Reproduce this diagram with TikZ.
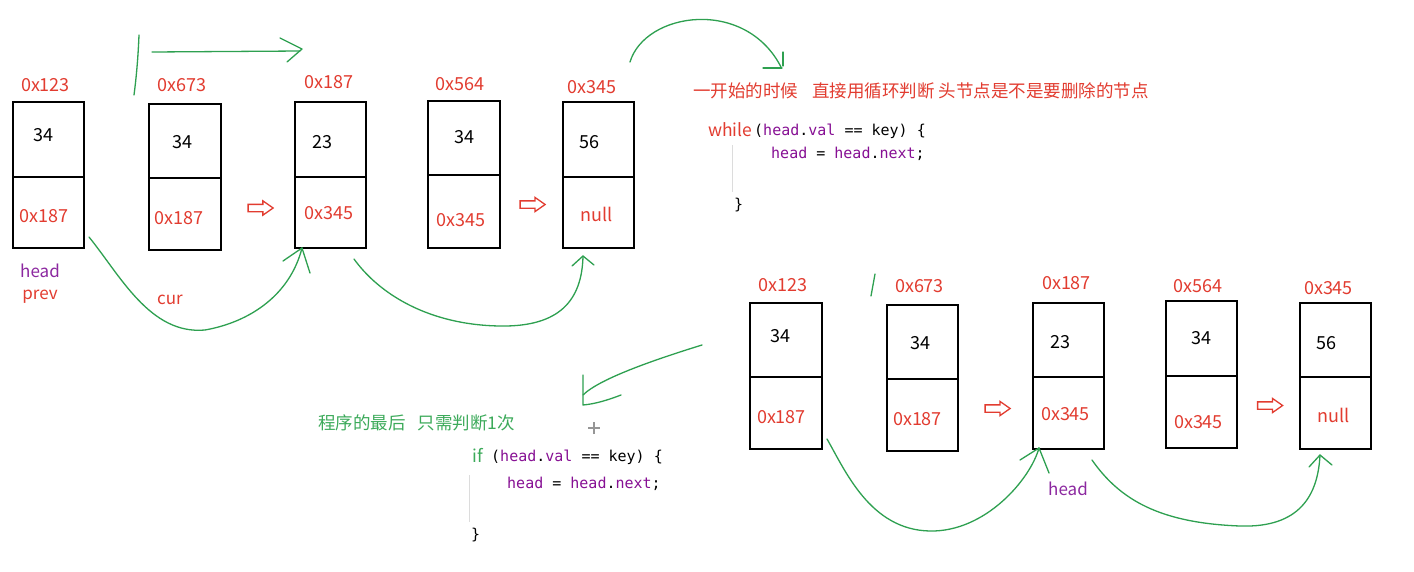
\documentclass[tikz,border=0pt]{standalone}
\usepackage{fontspec}
\setmainfont{Noto Sans CJK SC}
\setmonofont{DejaVu Sans Mono}
\usetikzlibrary{shapes.arrows}
\definecolor{lred}{RGB}{226,60,48}
\definecolor{lpurple}{RGB}{140,40,160}
\definecolor{cpurple}{RGB}{135,16,148}
\definecolor{lgreen}{RGB}{46,160,80}
\definecolor{tgreen}{RGB}{60,170,90}
\definecolor{lgray}{RGB}{220,220,220}
\definecolor{cgray}{RGB}{150,150,150}
\newcommand\mkllbox[6]{%
  \node[cellbox, minimum width={(#3-#2)*1pt}, minimum height={(#5-#4)*1pt}] (#1t) at (#2,#4) {};
  \node[cellbox, minimum width={(#3-#2)*1pt}, minimum height={(#6-#5)*1pt}] (#1b) at (#2,#5) {};}
\newcommand\pv[1]{\textcolor{cpurple}{#1}}
\begin{document}
\begin{tikzpicture}[x=1pt,y=-1pt,
  cellbox/.style={draw=black, line width=1.8pt, inner sep=0pt, anchor=north west},
  addr/.style={text=lred, font=\fontsize{18}{21}\selectfont, inner sep=0pt},
  val/.style={text=black, font=\fontsize{18}{21}\selectfont, inner sep=0pt},
  ptrlbl/.style={font=\fontsize{17}{20}\selectfont, inner sep=0pt},
  note/.style={font=\fontsize{17.5}{20}\selectfont, inner sep=0pt, anchor=west},
  code/.style={font=\ttfamily\fontsize{15}{18}\selectfont, inner sep=0pt, anchor=west},
  pen/.style={draw=lgreen, line width=1.3pt, line cap=round, line join=round},
  hollow/.style={single arrow, draw=lred, fill=white, line width=1.3pt, minimum height=25pt,
    inner sep=3pt, single arrow head extend=3.5pt, single arrow head indent=0pt,
    single arrow tip angle=70, minimum width=13pt},
]
\fill[white] (0,0) rectangle (1414,571);
\useasboundingbox (0,0) rectangle (1414,571);

% ---------- top list ----------
\mkllbox{a1}{12}{83}{101}{176}{247}
\mkllbox{a2}{148}{220}{103}{177}{249}
\mkllbox{a3}{294}{365}{101}{176}{247}
\mkllbox{a4}{427}{499}{100}{174}{247}
\mkllbox{a5}{562}{633}{101}{176}{247}

\node[addr] (a1addr) at (45.5,85) {0x123};
\node[val]  (a1val)  at (43,135) {34};
\node[addr] (a1ptr)  at (44,216) {0x187};
\node[addr] (a2addr) at (182,85) {0x673};
\node[val]  (a2val)  at (182.5,142) {34};
\node[addr] (a2ptr)  at (179,218) {0x187};
\node[addr] (a3addr) at (329,82) {0x187};
\node[val]  (a3val)  at (322,142) {23};
\node[addr] (a3ptr)  at (329,213) {0x345};
\node[addr] (a4addr) at (460,84) {0x564};
\node[val]  (a4val)  at (464,137) {34};
\node[addr] (a4ptr)  at (461,220) {0x345};
\node[addr] (a5addr) at (592,87) {0x345};
\node[val]  (a5val)  at (589,142) {56};
\node[addr] (a5ptr)  at (596.5,214) {null};

\node[hollow] (ha1) at (258,208) {};
\node[hollow] (ha2) at (530,204.5) {};

\node[ptrlbl, text=lpurple] (headA) at (40,271) {head};
\node[ptrlbl, text=lred] (prevA) at (40,297) {prev};
\node[ptrlbl, text=lred] (curA) at (170,300) {cur};

% green strokes top
\coordinate (g1s) at (89,237);
\coordinate (g1m) at (205,330);
\coordinate (g1e) at (302,248);
\draw[pen] (g1s) .. controls (120,275) and (150,335) .. (g1m)
           .. controls (250,322) and (290,295) .. (g1e);
\draw[pen] (g1e) -- (283,261);
\draw[pen] (g1e) -- (310,273);

\coordinate (g2s) at (354,259);
\coordinate (g2m) at (500,326);
\coordinate (g2e) at (583,256);
\draw[pen] (g2s) .. controls (380,295) and (430,325) .. (g2m)
           .. controls (560,327) and (582,300) .. (g2e);
\draw[pen] (g2e) -- (572,266);
\draw[pen] (g2e) -- (594,265);

\coordinate (v1s) at (139,35);
\coordinate (v1e) at (134,95);
\draw[pen] (v1s) .. controls (138,60) and (136,80) .. (v1e);
\coordinate (h1s) at (152,52);
\coordinate (h1e) at (300,51);
\draw[pen] (h1s) -- (h1e);
\draw[pen] (280,38) -- (302,49) -- (287,62);

\coordinate (arcS) at (630,62);
\coordinate (arcE) at (781,67);
\draw[pen] (arcS) .. controls (645,12) and (745,-3) .. (arcE);
\draw[pen] (783,52) -- (783,66);
\draw[pen] (763,68) -- (782,68);

% ---------- top note and code ----------
\node[note, text=lred] (note1) at (693,91) {一开始的时候\hspace{14pt}直接用循环判断 头节点是不是要删除的节点};
\node[note, text=lred] (while) at (708,130) {while};
\node[code] (c1) at (754,131) {(\pv{head}.\pv{val} == key) \{};
\node[code] (c2) at (771,154) {\pv{head} = \pv{head}.\pv{next};};
\node[code] (c3) at (734,205) {\}};
\coordinate (gl1s) at (732,145);
\coordinate (gl1e) at (732,192);
\draw[lgray, line width=1pt] (gl1s) -- (gl1e);

% ---------- bottom list ----------
\mkllbox{b1}{749}{821}{302}{376}{448}
\mkllbox{b2}{886}{957}{304}{378}{450}
\mkllbox{b3}{1032}{1103}{302}{376}{448}
\mkllbox{b4}{1165}{1236}{300}{375}{447}
\mkllbox{b5}{1299}{1370}{302}{376}{448}

\node[addr] (b1addr) at (783,285) {0x123};
\node[val]  (b1val)  at (780,336) {34};
\node[addr] (b1ptr)  at (781.5,417) {0x187};
\node[addr] (b2addr) at (919.5,286) {0x673};
\node[val]  (b2val)  at (920,343) {34};
\node[addr] (b2ptr)  at (917.5,419) {0x187};
\node[addr] (b3addr) at (1066.5,283) {0x187};
\node[val]  (b3val)  at (1060,342) {23};
\node[addr] (b3ptr)  at (1065.5,414) {0x345};
\node[addr] (b4addr) at (1198,286) {0x564};
\node[val]  (b4val)  at (1201.5,338) {34};
\node[addr] (b4ptr)  at (1198.5,422) {0x345};
\node[addr] (b5addr) at (1328.5,288) {0x345};
\node[val]  (b5val)  at (1326,343) {56};
\node[addr] (b5ptr)  at (1333.5,415) {null};

\node[hollow] (hb1) at (995,408.5) {};
\node[hollow] (hb2) at (1267.5,405.5) {};

\node[ptrlbl, text=lpurple] (headB) at (1068,489) {head};

\coordinate (t1s) at (875,274);
\coordinate (t1e) at (871,296);
\draw[pen] (t1s) -- (t1e);

\coordinate (g3s) at (827,439);
\coordinate (g3m) at (930,531);
\coordinate (g3e) at (1039,448);
\draw[pen] (g3s) .. controls (845,470) and (870,530) .. (g3m)
           .. controls (985,532) and (1030,480) .. (g3e);
\draw[pen] (g3e) -- (1020,460);
\draw[pen] (g3e) -- (1049,473);

\coordinate (g4s) at (1092,460);
\coordinate (g4m) at (1240,526);
\coordinate (g4e) at (1320,455);
\draw[pen] (g4s) .. controls (1120,500) and (1160,523) .. (g4m)
           .. controls (1300,528) and (1318,495) .. (g4e);
\draw[pen] (g4e) -- (1309,467);
\draw[pen] (g4e) -- (1332,465);

% bottom-left arrow
\coordinate (g5s) at (702,345);
\coordinate (g5e) at (583,395);
\draw[pen] (g5s) .. controls (660,358) and (600,378) .. (g5e);
\draw[pen] (583,375) -- (583,405) .. controls (595,404) and (608,400) .. (621,395);

% cursor
\coordinate (cur) at (594,428);
\draw[cgray, line width=1.2pt] ([xshift=-6pt]cur) -- ([xshift=6pt]cur);
\draw[cgray, line width=1.2pt] ([yshift=-6pt]cur) -- ([yshift=6pt]cur);

% ---------- bottom note and code ----------
\node[note, text=tgreen] (note2) at (318,423) {程序的最后\hspace{12pt}只需判断1次};
\node[note, text=tgreen] (if) at (472,455) {if};
\node[code] (d1) at (491,457) {(\pv{head}.\pv{val} == key) \{};
\node[code] (d2) at (507,484) {\pv{head} = \pv{head}.\pv{next};};
\node[code] (d3) at (471,535) {\}};
\coordinate (gl2s) at (469,475);
\coordinate (gl2e) at (469,522);
\draw[lgray, line width=1pt] (gl2s) -- (gl2e);
\end{tikzpicture}
\end{document}
